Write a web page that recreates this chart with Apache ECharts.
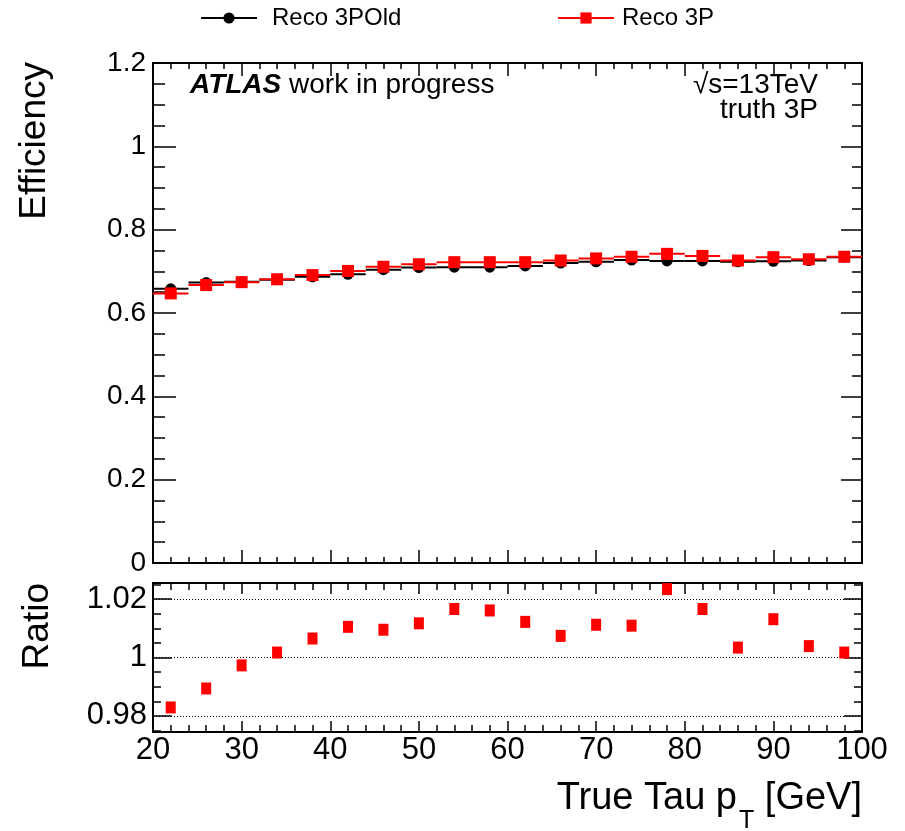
<!DOCTYPE html>
<html>
<head>
<meta charset="utf-8">
<script src="https://cdn.jsdelivr.net/npm/echarts@6/dist/echarts.min.js"></script>
<style>html,body{margin:0;padding:0;background:#fff}#c{width:905px;height:831px}</style>
</head>
<body>
<div id="c"></div>
<script>
// ---- data ----
const binCenters = [22, 26, 30, 34, 38, 42, 46, 50, 54, 58, 62, 66, 70, 74, 78, 82, 86, 90, 94, 98];
const binWidth = 4;
const effOld = [0.658, 0.673, 0.675, 0.680, 0.687, 0.693, 0.704, 0.709, 0.710, 0.710,
                0.713, 0.720, 0.723, 0.727, 0.725, 0.725, 0.723, 0.724, 0.726, 0.734];
const effNew = [0.647, 0.667, 0.674, 0.681, 0.691, 0.701, 0.711, 0.717, 0.722, 0.722,
                0.722, 0.726, 0.731, 0.735, 0.742, 0.737, 0.726, 0.734, 0.729, 0.735];
const ratio  = [0.9829, 0.9894, 0.9973, 1.0017, 1.0065, 1.0105, 1.0095, 1.0117, 1.0166, 1.0161,
                1.0122, 1.0074, 1.0112, 1.0109, 1.0234, 1.0166, 1.0034, 1.0131, 1.0039, 1.0017];
const ratioMajorTicks = [0.98, 1, 1.02];
const ratioMinorTicks = [0.975, 0.98, 0.985, 0.99, 0.995, 1, 1.005, 1.01, 1.015, 1.02, 1.025];
const ratioGridLines = [0.98, 1, 1.02];
const seriesNames = ['Reco 3POld', 'Reco 3P'];

// ---- build ----
const FONT = "'Liberation Sans', Arial, Helvetica, sans-serif";
const oldPts = binCenters.map((x, i) => [x, effOld[i]]);
const newPts = binCenters.map((x, i) => [x, effNew[i]]);
const ratioPts = binCenters.map((x, i) => [x, ratio[i]]);

function segRenderer(color) {
  return function (params, api) {
    const x = api.value(0), y = api.value(1);
    const p1 = api.coord([x - binWidth / 2, y]);
    const p2 = api.coord([x + binWidth / 2, y]);
    return { type: 'line', shape: { x1: p1[0], y1: p1[1], x2: p2[0], y2: p2[1] },
             style: { stroke: color, lineWidth: 2 } };
  };
}

const axLine = { show: true, onZero: false, lineStyle: { color: '#000', width: 2 } };
function xAx(grid, pos, labels, major, minor) {
  return {
    type: 'value', gridIndex: grid, position: pos, min: 20, max: 100, interval: 10,
    axisLine: axLine,
    axisTick: { show: true, inside: true, length: major, lineStyle: { color: '#000', width: 1.5 } },
    minorTick: { show: true, splitNumber: 5, length: minor, lineStyle: { color: '#000', width: 1.5 } },
    axisLabel: labels ? { show: true, fontSize: 31, fontFamily: FONT, color: '#000', margin: 3 } : { show: false },
    splitLine: { show: false }
  };
}

const chart = echarts.init(document.getElementById('c'), null, { renderer: 'canvas' });
const option = {
  animation: false,
  backgroundColor: '#fff',
  grid: [
    { left: 153, right: 43, top: 63, height: 500 },
    { left: 153, right: 43, top: 583, height: 149 }
  ],
  legend: [
    { data: [{ name: seriesNames[0], itemStyle: { color: '#000' }, lineStyle: { color: '#000', width: 2, opacity: 1 } }],
      left: 200, top: 6, padding: 0, itemWidth: 56, itemHeight: 14, itemGap: 0,
      textStyle: { fontSize: 24, fontFamily: FONT, color: '#000', padding: [0, 0, 0, 10] } },
    { data: [{ name: seriesNames[1], itemStyle: { color: '#ff0000' }, lineStyle: { color: '#ff0000', width: 2, opacity: 1 } }],
      left: 557, top: 6, padding: 0, itemWidth: 56, itemHeight: 14, itemGap: 0,
      textStyle: { fontSize: 24, fontFamily: FONT, color: '#000', padding: [0, 0, 0, 3] } }
  ],
  xAxis: [
    xAx(0, 'bottom', false, 13, 6),
    xAx(0, 'top', false, 13, 6),
    xAx(1, 'bottom', true, 11, 7),
    xAx(1, 'top', false, 11, 7)
  ],
  yAxis: [
    { type: 'value', gridIndex: 0, position: 'left', min: 0, max: 1.2, interval: 0.2,
      axisLine: axLine,
      axisTick: { show: true, inside: true, length: 23, lineStyle: { color: '#000', width: 1.5 } },
      minorTick: { show: true, splitNumber: 4, length: 12, lineStyle: { color: '#000', width: 1.5 } },
      axisLabel: { show: true, fontSize: 28, fontFamily: FONT, color: '#000', margin: 7 },
      splitLine: { show: false } },
    { type: 'value', gridIndex: 0, position: 'right', min: 0, max: 1.2, interval: 0.2,
      axisLine: axLine,
      axisTick: { show: true, inside: true, length: 21, lineStyle: { color: '#000', width: 1.5 } },
      minorTick: { show: true, splitNumber: 4, length: 10, lineStyle: { color: '#000', width: 1.5 } },
      axisLabel: { show: false }, splitLine: { show: false } },
    { type: 'value', gridIndex: 1, position: 'left', min: 0.9745, max: 1.0255,
      axisLine: axLine,
      axisTick: { show: true, inside: true, length: 19, customValues: ratioMajorTicks, lineStyle: { color: '#000', width: 1.5 } },
      axisLabel: { show: true, fontSize: 31, fontFamily: FONT, color: '#000', margin: 6, customValues: ratioMajorTicks },
      splitLine: { show: false } },
    { type: 'value', gridIndex: 1, position: 'left', min: 0.9745, max: 1.0255,
      axisLine: { show: false },
      axisTick: { show: true, inside: true, length: 8, customValues: ratioMinorTicks, lineStyle: { color: '#000', width: 1.5 } },
      axisLabel: { show: false }, splitLine: { show: false } },
    { type: 'value', gridIndex: 1, position: 'right', min: 0.9745, max: 1.0255,
      axisLine: axLine,
      axisTick: { show: true, inside: true, length: 18, customValues: ratioMajorTicks, lineStyle: { color: '#000', width: 1.5 } },
      axisLabel: { show: false }, splitLine: { show: false } },
    { type: 'value', gridIndex: 1, position: 'right', min: 0.9745, max: 1.0255,
      axisLine: { show: false },
      axisTick: { show: true, inside: true, length: 8, customValues: ratioMinorTicks, lineStyle: { color: '#000', width: 1.5 } },
      axisLabel: { show: false }, splitLine: { show: false } }
  ],
  series: [
    { type: 'custom', xAxisIndex: 0, yAxisIndex: 0, data: oldPts, renderItem: segRenderer('#000'), silent: true, z: 2 },
    { name: seriesNames[0], type: 'line', xAxisIndex: 0, yAxisIndex: 0, data: oldPts,
      symbol: 'circle', symbolSize: 11, showSymbol: true,
      itemStyle: { color: '#000', opacity: 1 }, lineStyle: { color: '#000', width: 2, opacity: 0 }, z: 3 },
    { type: 'custom', xAxisIndex: 0, yAxisIndex: 0, data: newPts, renderItem: segRenderer('#ff0000'), silent: true, z: 4 },
    { name: seriesNames[1], type: 'line', xAxisIndex: 0, yAxisIndex: 0, data: newPts,
      symbol: 'rect', symbolSize: 12, showSymbol: true,
      itemStyle: { color: '#ff0000', opacity: 1 }, lineStyle: { color: '#ff0000', width: 2, opacity: 0 }, z: 5 },
    { type: 'scatter', xAxisIndex: 2, yAxisIndex: 2, data: ratioPts,
      symbol: 'rect', symbolSize: [10, 12], itemStyle: { color: '#ff0000', opacity: 1 }, z: 5,
      markLine: { silent: true, symbol: 'none', label: { show: false },
        lineStyle: { color: '#000', width: 1, type: [1, 2] },
        data: ratioGridLines.map(v => ({ yAxis: v })) } }
  ],
  graphic: [
    { type: 'text', x: 190, y: 85, style: {
        text: '{b|ATLAS}{n| work in progress}', verticalAlign: 'middle', textVerticalAlign: 'middle',
        rich: { b: { fontSize: 28, fontFamily: FONT, fontWeight: 'bold', fontStyle: 'italic', fill: '#000' },
                n: { fontSize: 28, fontFamily: FONT, fill: '#000' } } } },
    { type: 'text', x: 818, y: 85, style: { text: '\u221As=13TeV', font: '28px ' + FONT, fill: '#000', textAlign: 'right', textVerticalAlign: 'middle' } },
    { type: 'text', x: 818, y: 110, style: { text: 'truth 3P', font: '28px ' + FONT, fill: '#000', textAlign: 'right', textVerticalAlign: 'middle' } },
    { type: 'text', x: 35, y: 62, rotation: Math.PI / 2, style: { text: 'Efficiency', font: '37px ' + FONT, fill: '#000', textAlign: 'right', textVerticalAlign: 'middle' } },
    { type: 'text', x: 38, y: 583, rotation: Math.PI / 2, style: { text: 'Ratio', font: '37px ' + FONT, fill: '#000', textAlign: 'right', textVerticalAlign: 'middle' } },
    { type: 'text', x: 737, y: 799, style: { text: 'True Tau p', font: '38px ' + FONT, fill: '#000', textAlign: 'right', textVerticalAlign: 'middle' } },
    { type: 'text', x: 739, y: 821, style: { text: 'T', font: '25px ' + FONT, fill: '#000', textAlign: 'left', textVerticalAlign: 'middle' } },
    { type: 'text', x: 862, y: 799, style: { text: '[GeV]', font: '38px ' + FONT, fill: '#000', textAlign: 'right', textVerticalAlign: 'middle' } }
  ]
};
chart.setOption(option);
</script>
</body>
</html>
